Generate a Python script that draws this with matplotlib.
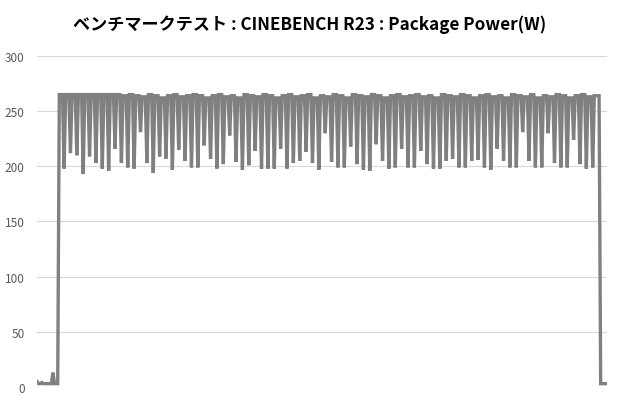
import numpy as np
import matplotlib
matplotlib.use('Agg')
import matplotlib.pyplot as plt

plt.rcParams['font.family'] = ['Noto Sans CJK JP', 'DejaVu Sans']

title = 'ベンチマークテスト : CINEBENCH R23 : Package Power(W)'

# idle readings before the run starts (W)
idle_vals = [5, 3, 3, 4, 3, 3, 3, 3, 3, 3, 13, 3, 3, 3]

# lowest value of each dip during the run (W)
dip_vals = [198, 212, 210, 193, 209, 203, 198, 196, 216, 203, 199, 198,
            231, 203, 194, 209, 207, 197, 215, 205, 199, 199,
            219, 207, 198, 202, 228, 204, 197, 201, 214, 198, 198, 198,
            216, 198, 203, 205, 213, 203, 197, 230, 204, 199,
            199, 218, 202, 197, 196, 220, 205, 198, 199, 216, 199, 199,
            214, 202, 198, 198, 205, 207, 199, 199, 205, 206,
            199, 197, 216, 205, 199, 199, 231, 205, 199, 199, 230, 203,
            199, 199, 224, 202, 198, 199]

# plateau level before each dip, plus the one after the last dip (W)
top_vals = [265, 265, 265, 265, 265, 265, 265, 265, 265, 265, 264, 265,
            264, 263, 265, 264, 262, 264, 265, 263, 264, 265,
            264, 262, 264, 265, 263, 264, 262, 265, 264, 263, 265, 264,
            262, 264, 265, 263, 264, 265, 262, 264, 263, 265,
            264, 262, 265, 264, 263, 265, 264, 262, 264, 265, 263, 264,
            265, 263, 264, 262, 265, 264, 263, 265, 264, 262,
            264, 265, 263, 264, 262, 265, 264, 263, 265, 262, 264, 263,
            265, 264, 262, 264, 265, 263, 264]

# readings after the run ends (W)
tail_vals = [3, 3, 3, 3, 3]

power = list(idle_vals)
for top, dip in zip(top_vals, dip_vals):
    power += [top, top, top, dip]
power += [top_vals[-1]] * 4
power += tail_vals
power = np.array(power, dtype=float)
t = np.arange(power.size)

fig = plt.figure(figsize=(6.2, 4.1), dpi=100)
ax = fig.add_axes([0.0597, 0.0537, 0.9194, 0.8073])

ax.plot(t, power, color='#808080', linewidth=2.4, solid_joinstyle='miter')

ax.set_xlim(0, t[-1])
ax.set_ylim(0, 300)
ax.set_yticks(np.arange(0, 301, 50))
ax.set_xticks([])
ax.grid(axis='y', color='#d9d9d9', linewidth=0.8)
ax.set_axisbelow(True)
for s in ax.spines.values():
    s.set_visible(False)
ax.tick_params(axis='y', length=0, pad=9, labelsize=8.5, labelcolor='#595959')

fig.text(0.5, 0.94, title, ha='center', va='center', fontsize=12.3, fontweight='bold', color='#000000')

fig.savefig('out.png', dpi=100)
